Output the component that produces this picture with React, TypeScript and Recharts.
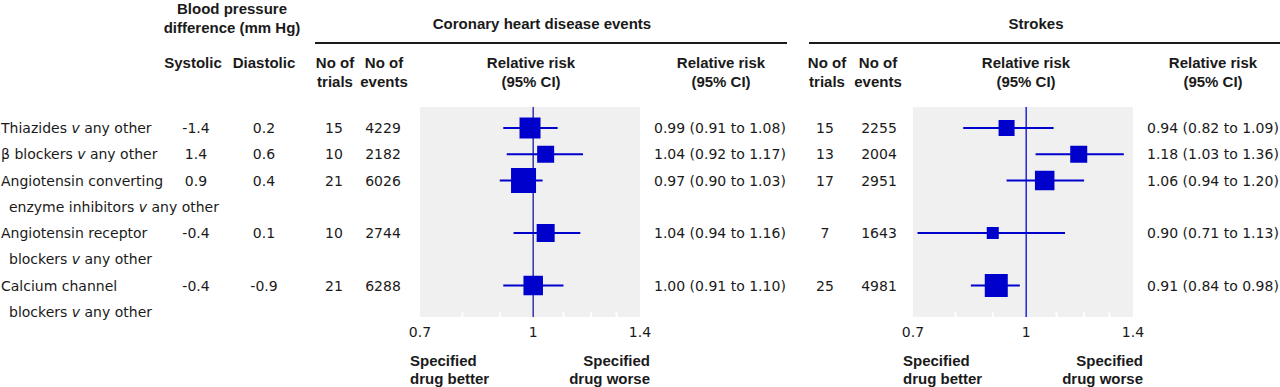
import React from "react";
import {
  ScatterChart,
  Scatter,
  XAxis,
  YAxis,
  ErrorBar,
  ReferenceLine,
  ReferenceArea,
} from "recharts";

// table rows (drug class comparisons)
const drugClasses = [
  ["Thiazides v any other"],
  ["β blockers v any other"],
  ["Angiotensin converting", "enzyme inhibitors v any other"],
  ["Angiotensin receptor", "blockers v any other"],
  ["Calcium channel", "blockers v any other"],
];
const rowSlots = [0, 1, 2, 4, 6];
const systolic = ["-1.4", "1.4", "0.9", "-0.4", "-0.4"];
const diastolic = ["0.2", "0.6", "0.4", "0.1", "-0.9"];

// coronary heart disease events
const chdTrials = [15, 10, 21, 10, 21];
const chdEvents = [4229, 2182, 6026, 2744, 6288];
const chdRR = [0.99, 1.04, 0.97, 1.04, 1.0];
const chdLow = [0.91, 0.92, 0.9, 0.94, 0.91];
const chdHigh = [1.08, 1.17, 1.03, 1.16, 1.1];
const chdWeight = [21, 17, 25, 18, 19.5];

// strokes
const strokeTrials = [15, 13, 17, 7, 25];
const strokeEvents = [2255, 2004, 2951, 1643, 4981];
const strokeRR = [0.94, 1.18, 1.06, 0.9, 0.91];
const strokeLow = [0.82, 1.03, 0.94, 0.71, 0.84];
const strokeHigh = [1.09, 1.36, 1.2, 1.13, 0.98];
const strokeWeight = [16, 17, 19.5, 12, 23];

const axisTicks = [0.7, 1, 1.4];
const minorTicks = [0.8, 0.9, 1.1, 1.2, 1.3];

const FONT = "'DejaVu Sans', sans-serif";
const BOLD_FONT = "'Liberation Sans', Arial, sans-serif";
const INK = "#1a1a1a";
const BLUE = "#0000cc";

const W = 1280;
const H = 387;
const PLOT_TOP = 107;
const PLOT_BOTTOM = 317;
const Y_MIN = -0.8;
const Y_MAX = 7.2;
const ROW_H = (PLOT_BOTTOM - PLOT_TOP) / (Y_MAX - Y_MIN);
const rowY = (k: number) => PLOT_TOP + (k - Y_MIN) * ROW_H;

const fmt = (v: number) => v.toFixed(2);

function buildRows(rr: number[], low: number[], high: number[], weight: number[]) {
  return rr.map((v, i) => ({
    rr: v,
    row: rowSlots[i],
    ci: [v - low[i], high[i] - v],
    weight: weight[i],
    label: `${fmt(v)} (${fmt(low[i])} to ${fmt(high[i])})`,
  }));
}

const chdRows = buildRows(chdRR, chdLow, chdHigh, chdWeight);
const strokeRows = buildRows(strokeRR, strokeLow, strokeHigh, strokeWeight);

type TProps = {
  x: number;
  y: number;
  anchor?: "start" | "middle" | "end";
  bold?: boolean;
  lh?: number;
  children: React.ReactNode;
};

// text placed by the centre of the capitals of its first line
function T({ x, y, anchor = "start", bold = false, lh = 20, children }: TProps) {
  return (
    <div
      style={{
        position: "absolute",
        left: x,
        top: y - lh / 2,
        lineHeight: `${lh}px`,
        whiteSpace: "nowrap",
        fontFamily: bold ? BOLD_FONT : FONT,
        fontWeight: bold ? 700 : 400,
        fontSize: bold ? 15 : 14,
        color: INK,
        textAlign: anchor === "middle" ? "center" : anchor === "end" ? "right" : "left",
        transform:
          anchor === "middle"
            ? "translateX(-50%)"
            : anchor === "end"
            ? "translateX(-100%)"
            : undefined,
      }}
    >
      {children}
    </div>
  );
}

// put "v" in italics
function DrugText({ text }: { text: string }) {
  const parts = text.split(" v ");
  if (parts.length === 1) return <>{text}</>;
  return (
    <>
      {parts[0]} <i>v</i> {parts[1]}
    </>
  );
}

const Box = (props: any) => {
  const { cx, cy, payload } = props;
  const s = payload.weight;
  return <rect x={cx - s / 2} y={cy - s / 2} width={s} height={s} fill={BLUE} />;
};

function ForestPanel({
  data,
  plotLeft,
  lineColor,
}: {
  data: any[];
  plotLeft: number;
  lineColor: string;
}) {
  const side = 40;
  return (
    <div style={{ position: "absolute", left: plotLeft - side, top: 0 }}>
      <ScatterChart
        width={220 + side * 2}
        height={H}
        margin={{ top: PLOT_TOP, bottom: H - PLOT_BOTTOM - 30, left: side, right: side }}
      >
        <XAxis
          type="number"
          dataKey="rr"
          scale="log"
          domain={[0.7, 1.4]}
          ticks={axisTicks}
          interval={0}
          allowDataOverflow
          axisLine={false}
          tickLine={false}
          tickSize={0}
          tickMargin={10}
          height={30}
          tickFormatter={(v: number) => String(v)}
          tick={{ fontSize: 14, fill: INK, fontFamily: FONT }}
        />
        <YAxis
          type="number"
          dataKey="row"
          domain={[Y_MIN, Y_MAX]}
          reversed
          hide
          allowDataOverflow
        />
        <ReferenceArea
          x1={0.7}
          x2={1.4}
          y1={Y_MIN}
          y2={Y_MAX}
          fill="#f0f0f0"
          fillOpacity={1}
          stroke="none"
        />
        {minorTicks.map((t) => (
          <ReferenceLine
            key={t}
            segment={[
              { x: t, y: Y_MAX - 0.18 },
              { x: t, y: Y_MAX },
            ]}
            stroke="#ffffff"
            strokeWidth={2}
          />
        ))}
        <ReferenceLine x={1} stroke={lineColor} strokeWidth={1.5} />
        <Scatter data={data} fill={BLUE} shape={Box} isAnimationActive={false}>
          <ErrorBar dataKey="ci" direction="x" width={0} stroke={BLUE} strokeWidth={2} />
        </Scatter>
      </ScatterChart>
    </div>
  );
}

export default function App() {
  const chdLeft = 420;
  const strokeLeft = 913;
  return (
    <div
      style={{
        position: "absolute",
        left: 0,
        top: 0,
        width: W,
        height: H,
        background: "#fff",
        overflow: "hidden",
      }}
    >
      {/* header block */}
      <T x={232} y={8.5} lh={19} anchor="middle" bold>
        Blood pressure
        <br />
        difference (mm Hg)
      </T>
      <T x={542} y={24} anchor="middle" bold>Coronary heart disease events</T>
      <T x={1036} y={24} anchor="middle" bold>Strokes</T>
      <div style={{ position: "absolute", left: 315, top: 42, width: 472, height: 2, background: INK }} />
      <div style={{ position: "absolute", left: 809, top: 42, width: 471, height: 2, background: INK }} />

      <T x={193} y={62} lh={19} anchor="middle" bold>Systolic</T>
      <T x={264} y={62} lh={19} anchor="middle" bold>Diastolic</T>
      {[
        { trials: 335, events: 384, rr: 531, rr2: 721 },
        { trials: 827, events: 878, rr: 1026, rr2: 1213 },
      ].map((c, i) => (
        <React.Fragment key={i}>
          <T x={c.trials} y={62} lh={19} anchor="middle" bold>
            No of
            <br />
            trials
          </T>
          <T x={c.events} y={62} lh={19} anchor="middle" bold>
            No of
            <br />
            events
          </T>
          <T x={c.rr} y={62} lh={19} anchor="middle" bold>
            Relative risk
            <br />
            (95% CI)
          </T>
          <T x={c.rr2} y={62} lh={19} anchor="middle" bold>
            Relative risk
            <br />
            (95% CI)
          </T>
        </React.Fragment>
      ))}

      {/* table rows */}
      {drugClasses.map((lines, i) => {
        const y = rowY(rowSlots[i]);
        return (
          <React.Fragment key={i}>
            {lines.map((line, j) => (
              <T key={j} x={j === 0 ? 1 : 9} y={y + j * ROW_H}>
                <DrugText text={line} />
              </T>
            ))}
            <T x={196} y={y} anchor="middle">{systolic[i]}</T>
            <T x={264} y={y} anchor="middle">{diastolic[i]}</T>
            <T x={334} y={y} anchor="middle">{chdTrials[i]}</T>
            <T x={383} y={y} anchor="middle">{chdEvents[i]}</T>
            <T x={654} y={y}>{chdRows[i].label}</T>
            <T x={825} y={y} anchor="middle">{strokeTrials[i]}</T>
            <T x={879} y={y} anchor="middle">{strokeEvents[i]}</T>
            <T x={1147} y={y}>{strokeRows[i].label}</T>
          </React.Fragment>
        );
      })}

      <ForestPanel data={chdRows} plotLeft={chdLeft} lineColor="#3535a8" />
      <ForestPanel data={strokeRows} plotLeft={strokeLeft} lineColor="#2323d8" />

      {[chdLeft, strokeLeft].map((left, i) => (
        <React.Fragment key={i}>
          <T x={left - 10} y={361} lh={17.2} bold>
            Specified
            <br />
            drug better
          </T>
          <T x={left + 230} y={361} lh={17.2} anchor="end" bold>
            Specified
            <br />
            drug worse
          </T>
        </React.Fragment>
      ))}
    </div>
  );
}
